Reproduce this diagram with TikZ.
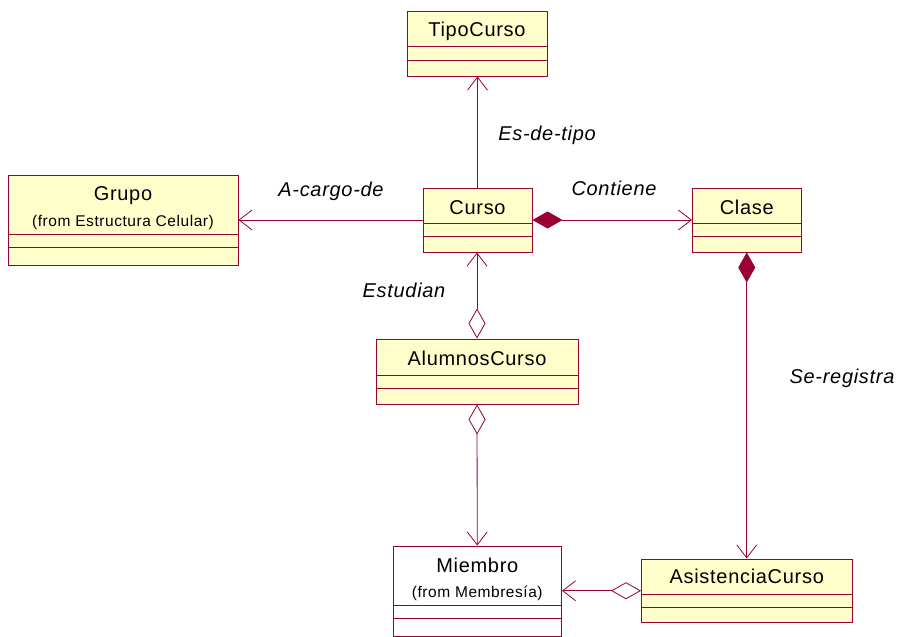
\documentclass[tikz,border=0pt]{standalone}
\usepackage{fontspec}
\setmainfont{Liberation Sans}[LetterSpace=3.5]
\usetikzlibrary{arrows.meta}
\definecolor{borde}{HTML}{990033}
\definecolor{relleno}{HTML}{FFFFCC}

\begin{document}
\begin{tikzpicture}[x=1pt, y=-1pt,
  clase/.style = {draw=borde, fill=relleno, line width=1pt, inner sep=0pt},
  nombre/.style = {font=\fontsize{20}{24}\selectfont, anchor=base, inner sep=0pt},
  origen/.style = {font=\fontsize{15.5}{18}\selectfont, anchor=base, inner sep=0pt},
  rol/.style = {font=\fontsize{20}{24}\selectfont\itshape, anchor=base, inner sep=0pt},
  compart/.style = {draw=borde, line width=0.8pt},
  rel/.style = {draw=borde, line width=0.8pt},
  flecha/.style = {-{Straight Barb[length=13pt,width=20pt]}},
  compos/.style = {{Diamond[length=30pt,width=17pt]}-{Straight Barb[length=13pt,width=20pt]}},
  agreg/.style = {{Diamond[open,fill=white,length=30pt,width=17pt]}-{Straight Barb[length=13pt,width=20pt]}}]
  \useasboundingbox (0,0) rectangle (897,637);

  % clases
  \node[clase, minimum width=140pt, minimum height=64.5pt] (tipocurso) at (477,43.75) {};
  \node[nombre] at (477,36.5) {TipoCurso};
  \draw[compart] (tipocurso.west |- 0,46.5) -- (tipocurso.east |- 0,46.5);
  \draw[compart] (tipocurso.west |- 0,60) -- (tipocurso.east |- 0,60);

  \node[clase, minimum width=230pt, minimum height=89.5pt] (grupo) at (123,220.25) {};
  \node[nombre] at (123,200.5) {Grupo};
  \node[origen] at (123,226.5) {(from Estructura Celular)};
  \draw[compart] (grupo.west |- 0,234) -- (grupo.east |- 0,234);
  \draw[compart] (grupo.west |- 0,247) -- (grupo.east |- 0,247);

  \node[clase, minimum width=109pt, minimum height=64pt] (curso) at (477.5,220) {};
  \node[nombre] at (477.5,214.5) {Curso};
  \draw[compart] (curso.west |- 0,223.5) -- (curso.east |- 0,223.5);
  \draw[compart] (curso.west |- 0,236.5) -- (curso.east |- 0,236.5);

  \node[clase, minimum width=108.5pt, minimum height=64pt] (clase) at (746.75,220) {};
  \node[nombre] at (746.75,214.5) {Clase};
  \draw[compart] (clase.west |- 0,223.5) -- (clase.east |- 0,223.5);
  \draw[compart] (clase.west |- 0,236.5) -- (clase.east |- 0,236.5);

  \node[clase, minimum width=202pt, minimum height=65pt] (alumnoscurso) at (477,371.5) {};
  \node[nombre] at (477,365) {AlumnosCurso};
  \draw[compart] (alumnoscurso.west |- 0,375) -- (alumnoscurso.east |- 0,375);
  \draw[compart] (alumnoscurso.west |- 0,388.5) -- (alumnoscurso.east |- 0,388.5);

  \node[clase, fill=white, minimum width=168.5pt, minimum height=90pt] (miembro) at (477.25,591) {};
  \node[nombre] at (477.25,572.5) {Miembro};
  \node[origen] at (477.25,597.5) {(from Membresía)};
  \draw[compart] (miembro.west |- 0,605) -- (miembro.east |- 0,605);
  \draw[compart] (miembro.west |- 0,618) -- (miembro.east |- 0,618);

  \node[clase, minimum width=210.5pt, minimum height=63.5pt] (asistenciacurso) at (746.75,590.75) {};
  \node[nombre] at (746.75,583.5) {AsistenciaCurso};
  \draw[compart] (asistenciacurso.west |- 0,594) -- (asistenciacurso.east |- 0,594);
  \draw[compart] (asistenciacurso.west |- 0,607.5) -- (asistenciacurso.east |- 0,607.5);

  % relaciones
  \draw[rel, flecha] (curso.north) -- (curso.north |- tipocurso.south);
  \draw[rel, flecha] (curso.west) -- (grupo.east |- curso.west);
  \draw[rel, compos] (curso.east) -- (clase.west);
  \draw[rel, agreg] (alumnoscurso.north) -- (alumnoscurso.north |- curso.south);
  \draw[rel, agreg] (alumnoscurso.south) -- (miembro.north);
  \draw[rel, compos] (clase.south) -- (asistenciacurso.north);
  \draw[rel, agreg] (asistenciacurso.west) -- (miembro.east |- asistenciacurso.west);

  % roles
  \node[rol] at (547,140) {Es-de-tipo};
  \node[rol] at (331,196) {A-cargo-de};
  \node[rol] at (614,195.5) {Contiene};
  \node[rol] at (404,297) {Estudian};
  \node[rol] at (842,383) {Se-registra};
\end{tikzpicture}
\end{document}
